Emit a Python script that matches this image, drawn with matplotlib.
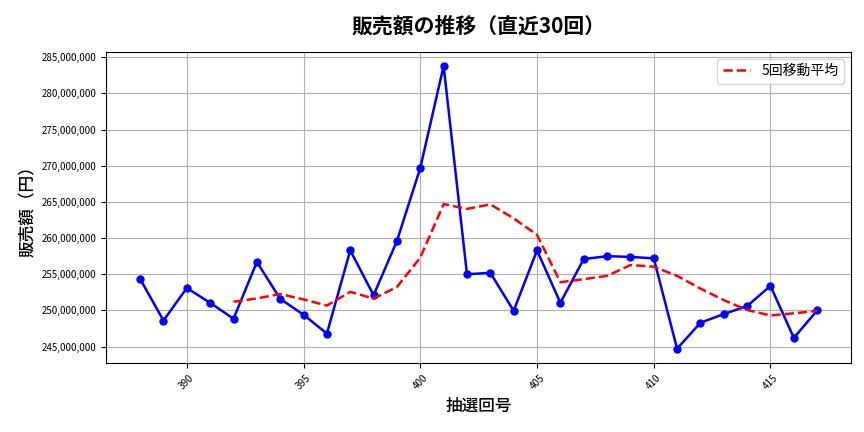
import matplotlib
matplotlib.use("Agg")
import matplotlib.pyplot as plt
import matplotlib.ticker as mticker
import pandas as pd

plt.rcParams["font.family"] = "Noto Sans CJK JP"

draws = list(range(388, 418))
sales = [254.35, 248.6, 253.1, 251.05, 248.85, 256.7, 251.6, 249.4, 246.8, 258.3,
         252.1, 259.6, 269.7, 283.8, 255.0, 255.2, 249.95, 258.3, 251.05, 257.1,
         257.5, 257.4, 257.2, 244.7, 248.3, 249.5, 250.6, 253.4, 246.2, 250.0]
sales = [v * 1e6 for v in sales]
ma = pd.Series(sales).rolling(5).mean()

fig, ax = plt.subplots(figsize=(8.64, 4.32), dpi=100)
ax.plot(draws, sales, color="blue", marker="o", markersize=5, linewidth=1.8)
ax.plot(draws, ma, color="red", linestyle="--", linewidth=1.8, label="5回移動平均")
ax.set_title("販売額の推移（直近30回）", fontsize=15, pad=14, fontweight="bold")
ax.set_xlabel("抽選回号", fontsize=12, fontweight="medium")
ax.set_ylabel("販売額（円）", fontsize=12, fontweight="medium")
ax.yaxis.set_major_formatter(mticker.FuncFormatter(lambda v, p: f"{int(v):,}"))
ax.xaxis.set_major_locator(mticker.MultipleLocator(5))
ax.tick_params(axis="both", labelsize=7)
plt.setp(ax.get_xticklabels(), rotation=45)
ax.grid(True, color="#b0b0b0", linewidth=0.8)
ax.legend(loc="upper right", fontsize=10)
fig.subplots_adjust(left=0.123, right=0.985, top=0.88, bottom=0.16)
fig.savefig("out.png")
